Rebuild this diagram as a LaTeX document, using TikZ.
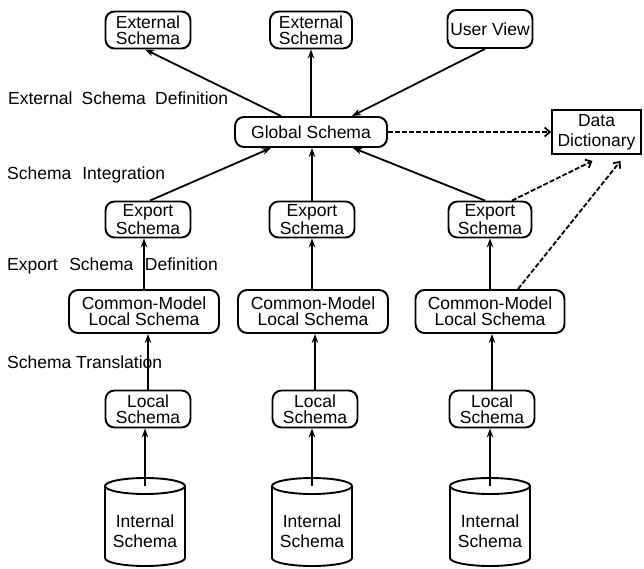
\documentclass[tikz,border=0pt]{standalone}
\usepackage{fontspec}
\setmainfont{Liberation Sans}
\usetikzlibrary{arrows.meta,calc}
\begin{document}
\begin{tikzpicture}[x=1pt,y=-1pt,
  box/.style={draw,line width=1.9pt,rounded corners=9pt,inner sep=0pt,align=center,
    font=\fontsize{17.5}{16}\selectfont},
  ddbox/.style={draw,line width=1.9pt,inner sep=0pt,align=center,
    font=\fontsize{17.5}{20}\selectfont,minimum width=89pt,minimum height=44pt},
  lbl/.style={inner sep=0pt,anchor=base west,font=\fontsize{17.5}{21}\selectfont},
  cyltext/.style={inner sep=0pt,align=center,font=\fontsize{17.5}{20}\selectfont},
  cyl/.style={line width=1.9pt},
  arr/.style={line width=1.8pt,-{Stealth[length=9pt,width=6.5pt]}},
  darr/.style={line width=1.8pt,dash pattern=on 5pt off 2pt,-{Straight Barb[length=5pt,width=9pt]}}]
\useasboundingbox (0,0) rectangle (644,569);

% top row
\node[box,minimum width=85pt,minimum height=37pt] (es1) at (148,30) {External\\Schema};
\node[box,minimum width=82pt,minimum height=37pt] (es2) at (311,30) {External\\Schema};
\node[box,minimum width=85pt,minimum height=38pt] (uv) at (490,29) {User View};

% global + dictionary
\node[box,minimum width=152pt,minimum height=30pt] (gs) at (311,132) {Global Schema};
\node[ddbox] (dd) at (596.5,132) {Data\\Dictionary};

% export schemas
\node[box,minimum width=85pt,minimum height=36pt] (ex1) at (148,219.5) {Export\\Schema};
\node[box,minimum width=85pt,minimum height=36pt] (ex2) at (312,219.5) {Export\\Schema};
\node[box,minimum width=83pt,minimum height=36pt] (ex3) at (490,219.5) {Export\\Schema};

% common-model local schemas
\node[box,minimum width=150pt,minimum height=43pt] (cm1) at (144,311.5) {Common-Model\\Local Schema};
\node[box,minimum width=150pt,minimum height=43pt] (cm2) at (313,311.5) {Common-Model\\Local Schema};
\node[box,minimum width=149pt,minimum height=43pt] (cm3) at (490,311.5) {Common-Model\\Local Schema};

% local schemas
\node[box,minimum width=85pt,minimum height=37pt] (lo1) at (148,409) {Local\\Schema};
\node[box,minimum width=85pt,minimum height=37pt] (lo2) at (315,409) {Local\\Schema};
\node[box,minimum width=85pt,minimum height=37pt] (lo3) at (492,409) {Local\\Schema};

% cylinders (internal schemas)
\foreach \i/\cx in {1/145,2/312,3/490}{
  \coordinate (cyt\i) at (\cx,486);
  \coordinate (cyb\i) at (\cx,558);
  \draw[cyl] (cyt\i) ellipse [x radius=40pt,y radius=8pt];
  \draw[cyl] ([xshift=-40pt]cyt\i) -- ([xshift=-40pt]cyb\i)
     arc[start angle=180,end angle=360,x radius=40pt,y radius=8pt] -- ([xshift=40pt]cyt\i);
}
\node[cyltext] (in1) at (145,531) {Internal\\Schema};
\node[cyltext] (in2) at (312,531) {Internal\\Schema};
\node[cyltext] (in3) at (490,531) {Internal\\Schema};

% side labels
\node[lbl] (l1) at (8,105) {External\hspace{9.3pt}Schema\hspace{9.3pt}Definition};
\node[lbl] (l2) at (7,180) {Schema\hspace{11pt}Integration};
\node[lbl] (l3) at (7,270) {Export\hspace{11.5pt}Schema\hspace{11.5pt}Definition};
\node[lbl] (l4) at (7,368) {Schema Translation};

% arrows top
\draw[arr] ([xshift=47pt]gs.north west) -- ([xshift=-3pt]es1.south);
\draw[arr] (gs.north) -- (es2.south);
\draw[arr] ([xshift=-5pt]uv.south) -- ([xshift=-36pt]gs.north east);

% export -> global
\draw[arr] ([xshift=2pt]ex1.north) -- ([xshift=37pt]gs.south west);
\draw[arr] (ex2.north) -- (ex2.north |- gs.south);
\draw[arr] ([xshift=-5pt]ex3.north) -- ([xshift=-35pt]gs.south east);

% dashed to dictionary
\draw[darr] (gs.east) -- (dd.west);
\draw[darr] ([xshift=22pt]ex3.north) -- ([xshift=-4pt,yshift=-6pt]dd.south);
\draw[darr] ([xshift=28pt]cm3.north) -- ([xshift=24pt,yshift=-6pt]dd.south);

% cm -> export
\draw[arr] (cm1.north) -- (cm1.north |- ex1.south);
\draw[arr] ([xshift=-1pt]cm2.north) -- ([xshift=-1pt]cm2.north |- ex2.south);
\draw[arr] (cm3.north) -- (cm3.north |- ex3.south);

% local -> cm
\draw[arr] (lo1.north) -- (lo1.north |- cm1.south);
\draw[arr] (lo2.north) -- (lo2.north |- cm2.south);
\draw[arr] (lo3.north) -- (lo3.north |- cm3.south);

% cylinder -> local
\draw[arr] (cyt1) -- (cyt1 |- lo1.south);
\draw[arr] (cyt2) -- (cyt2 |- lo2.south);
\draw[arr] (cyt3) -- (cyt3 |- lo3.south);
\end{tikzpicture}
\end{document}
